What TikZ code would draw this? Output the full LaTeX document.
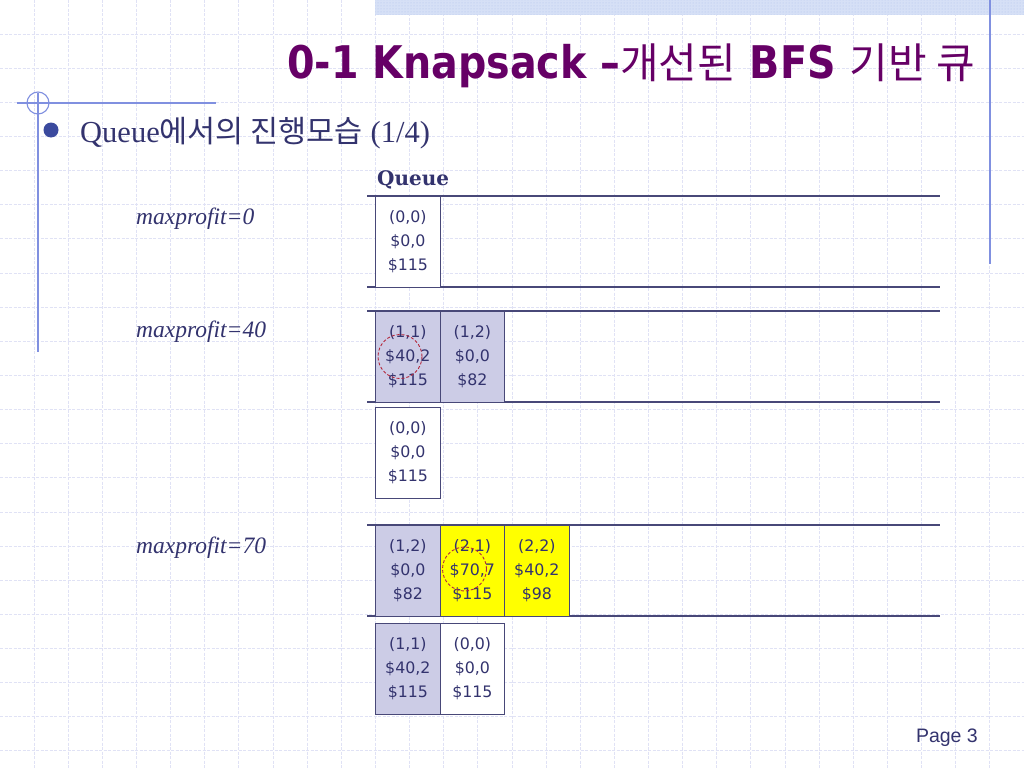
\documentclass[tikz,border=0pt]{standalone}
\usepackage{fontspec}
\setmainfont{Liberation Serif}
\newfontfamily\titlefont{DejaVu Sans}[FakeStretch=0.88]
\newfontfamily\kr{Noto Sans CJK KR}
\newfontfamily\boxfont{DejaVu Sans}
\newfontfamily\qfont{DejaVu Serif}
\newfontfamily\pagefont{Liberation Sans}
\usetikzlibrary{patterns}
\definecolor{txt}{RGB}{51,51,110}
\definecolor{titlec}{RGB}{102,0,102}
\definecolor{gridc}{RGB}{224,226,245}
\definecolor{decoc}{RGB}{128,144,224}
\definecolor{boxc}{RGB}{72,72,120}
\definecolor{lav}{RGB}{204,204,230}
\definecolor{yel}{RGB}{255,255,0}
\definecolor{bulletc}{RGB}{59,74,158}
\definecolor{bandc}{RGB}{214,224,246}
\definecolor{banddot}{RGB}{176,194,236}
\definecolor{redc}{RGB}{180,40,60}
\begin{document}
\begin{tikzpicture}[x=1pt,y=-1pt,
  gridl/.style={draw=gridc, line width=0.9pt, dash pattern=on 3pt off 1.5pt},
  deco/.style={draw=decoc, line width=1.1pt},
  rowline/.style={draw=boxc, line width=1.2pt},
  qbox/.style={draw=boxc, line width=1.2pt, anchor=north west, minimum width=64.5pt, minimum height=91pt, inner sep=0pt, align=center, text=txt, font=\boxfont\fontsize{15.8}{24}\selectfont},
  mp/.style={anchor=base west, inner sep=0pt, text=txt, font=\itshape\fontsize{23.5}{28}\selectfont},
  mark circle/.style={circle, draw=redc, line width=0.9pt, dash pattern=on 3pt off 2pt, minimum size=44pt, inner sep=0pt}
]
\useasboundingbox (0,0) rectangle (1024,768);
\fill[white] (0,0) rectangle (1024,768);
\foreach \i in {1,...,29} \draw[gridl] (\i*34.133,0) -- (\i*34.133,768);
\foreach \j in {1,...,22} \draw[gridl] (0,\j*34.133) -- (1024,\j*34.133);
% top band
\fill[bandc] (375,0) rectangle (1024,15);
\fill[pattern=dots, pattern color=banddot] (375,0) rectangle (1024,15);
% decorations
\draw[deco] (990,0) -- (990,264);
\draw[deco] (17,103) -- (216,103);
\draw[deco] (38,93) -- (38,352);
\draw[deco] (38,103) circle[radius=11];
% title
\node[anchor=base east, text=titlec, inner sep=0pt] (title) at (975,78)
  {\titlefont\bfseries\fontsize{45}{50}\selectfont 0-1 Knapsack –{\kr\mdseries\fontsize{42}{50}\selectfont 개선된} BFS {\kr\mdseries\fontsize{42}{50}\selectfont 기반 큐}};
% bullet
\node[circle, fill=bulletc, minimum size=15pt, inner sep=0pt] (bullet) at (51,130) {};
\node[anchor=base west, text=txt, inner sep=0pt] (sub) at (80,142)
  {\fontsize{30.5}{34}\selectfont Queue{\kr\fontsize{30.5}{34}\selectfont 에서의 진행모습} (1/4)};
% queue label
\node[anchor=base west, text=txt, inner sep=0pt] (qlabel) at (377,185)
  {\qfont\bfseries\fontsize{20}{24}\selectfont Queue};
% maxprofit labels
\node[mp] (mp0) at (136,224) {maxprofit=0};
\node[mp] (mp40) at (136,337) {maxprofit=40};
\node[mp] (mp70) at (136,553) {maxprofit=70};
% row lines
\draw[rowline] (367,196) -- (940,196);
\draw[rowline] (367,287) -- (940,287);
\draw[rowline] (367,311) -- (940,311);
\draw[rowline] (367,402) -- (940,402);
\draw[rowline] (367,525) -- (940,525);
\draw[rowline] (367,616) -- (940,616);
% boxes
\node[qbox, fill=white] (r1a) at (375,196) {(0,0)\\\$0,0\\\$115};
\node[qbox, fill=lav] (r2a) at (375,311) {(1,1)\\\$40,2\\\$115};
\node[qbox, fill=lav] (r2b) at (439.5,311) {(1,2)\\\$0,0\\\$82};
\node[qbox, fill=white] (d2a) at (375,407) {(0,0)\\\$0,0\\\$115};
\node[qbox, fill=lav] (r3a) at (375,525) {(1,2)\\\$0,0\\\$82};
\node[qbox, fill=yel] (r3b) at (439.5,525) {(2,1)\\\$70,7\\\$115};
\node[qbox, fill=yel] (r3c) at (504,525) {(2,2)\\\$40,2\\\$98};
\node[qbox, fill=lav] (d3a) at (375,623) {(1,1)\\\$40,2\\\$115};
\node[qbox, fill=white] (d3b) at (439.5,623) {(0,0)\\\$0,0\\\$115};
% dashed marks
\node[mark circle] (c1) at (400,356.5) {};
\node[mark circle] (c2) at (464.5,569) {};
% page
\node[anchor=base east, inner sep=0pt, text=txt, font=\pagefont\fontsize{19.5}{22}\selectfont] (page) at (978,742) {Page 3};
\end{tikzpicture}
\end{document}
